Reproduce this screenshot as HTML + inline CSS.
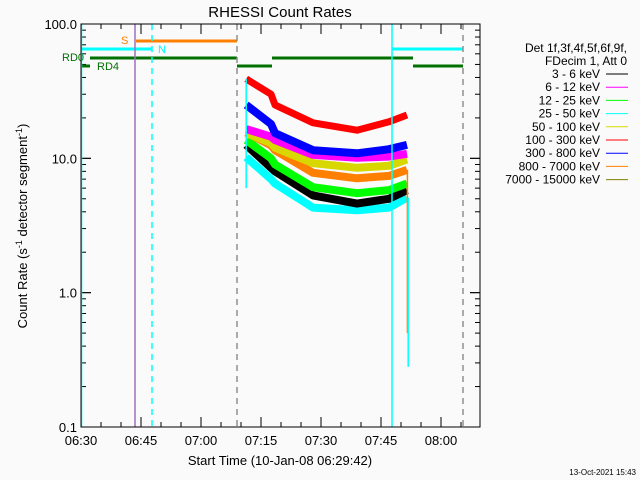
<!DOCTYPE html>
<html><head><meta charset="utf-8"><style>
body{margin:0;background:#fafafa;}
svg{display:block;font-family:"Liberation Sans",sans-serif;}
</style></head><body>
<svg id="chart" width="640" height="480" viewBox="0 0 640 480">
<rect width="640" height="480" fill="#fafafa"/>
<text x="280" y="17" font-size="15" text-anchor="middle">RHESSI Count Rates</text>
<g id="axes"></g>
<g id="flags"></g>
<g id="series"></g>
<g id="vlines"></g>
<rect x="81" y="24" width="399" height="403" fill="none" stroke="#000" stroke-width="1"/>
<text transform="translate(27,226) rotate(-90)" font-size="13" text-anchor="middle">Count Rate (s<tspan font-size="9" dy="-5">-1</tspan><tspan dy="5"> detector segment</tspan><tspan font-size="9" dy="-5">-1</tspan><tspan dy="5">)</tspan></text>
<text x="280" y="465" font-size="13" text-anchor="middle">Start Time (10-Jan-08 06:29:42)</text>
<text x="636" y="475" font-size="8" text-anchor="end">13-Oct-2021 15:43</text>
<g id="legend" font-size="12"></g>
</svg>
<script>
// time in minutes after 06:30
const times = [41.3, 47.5, 48.5, 58, 69, 77, 81.5];
const seriesNames = ["3 - 6 keV","6 - 12 keV","12 - 25 keV","25 - 50 keV","50 - 100 keV","100 - 300 keV","300 - 800 keV","800 - 7000 keV","7000 - 15000 keV"];
const seriesColors = ["#000000","#ff00ff","#00ff00","#00ffff","#d8d800","#ff0000","#0000ff","#ff8000","#808000"];
const black = [12.6, 8.5, 8, 5.3, 4.6, 5, 5.8];
const magenta = [16.5, 14.5, 13.7, 10.6, 10.1, 10.3, 10.8];
const green = [13.7, 10, 9, 6.1, 5.5, 5.8, 6.5];
const cyan = [10.2, 7, 6.5, 4.3, 4.1, 4.3, 5.1];
const yellow = [15.4, 13, 12, 9.2, 8.5, 8.8, 9.8];
const red = [39, 30, 25, 18.4, 16.2, 18.7, 21];
const blue = [25, 18, 15.4, 11.5, 10.9, 11.7, 12.6];
const orange = [15.6, 12.5, 11.5, 7.8, 7.1, 7.4, 8.2];
const xTickLabels = ["06:30","06:45","07:00","07:15","07:30","07:45","08:00"];
const yTickValues = [0.1, 1, 10, 100];
const yTickLabels = ["0.1","1.0","10.0","100.0"];

const X0=81,X1=480,Y0=24,Y1=427,TMAX=99.75;
function xs(t){return X0+(t/TMAX)*(X1-X0);}
function ys(v){return Y1-(Math.log10(v)-Math.log10(0.1))/3*(Y1-Y0);}
const NS="http://www.w3.org/2000/svg";
function mk(tag,attrs,parent){const e=document.createElementNS(NS,tag);for(const k in attrs)e.setAttribute(k,attrs[k]);parent.appendChild(e);return e;}

const axes=document.getElementById('axes');
// x ticks
for(let m=0;m<=TMAX;m+=5){
  const x=xs(m); const major=m%15===0; const L=major?10:5;
  const t1=mk('line',{x1:x,x2:x,y1:Y1,y2:Y1-L,stroke:'#000'},axes);
  
  
  const t2=mk('line',{x1:x,x2:x,y1:Y0,y2:Y0+L,stroke:'#000'},axes);
  
  
}
xTickLabels.forEach((lab,i)=>{
  const t=mk('text',{x:xs(i*15),y:445,'font-size':13,'text-anchor':'middle'},axes);
  t.textContent=lab;
  
  
});
// y ticks
for(let d=-1;d<2;d++){
  for(let k=1;k<=10;k++){
    const v=k*Math.pow(10,d); const y=ys(v); const major=(k===1||k===10); const L=major?10:5;
    const a=mk('line',{x1:X0,x2:X0+L,y1:y,y2:y,stroke:'#000'},axes);
    
    
    const b=mk('line',{x1:X1,x2:X1-L,y1:y,y2:y,stroke:'#000'},axes);
    
    
  }
}
yTickValues.forEach((v,i)=>{
  const t=mk('text',{x:77,y:ys(v)+5,'font-size':13,'text-anchor':'end'},axes);
  t.textContent=yTickLabels[i];
  
  
});

// flags
const flags=document.getElementById('flags');
function seg(x1,x2,y,c,w,name){const l=mk('line',{x1:x1,x2:x2,y1:y,y2:y,stroke:c,'stroke-width':w},flags);
  
  }
seg(136,237,41,'#ff8000',3,'saa-flag-bar');
seg(81,152,49,'#00ffff',3,'night-flag-bar');
seg(392,463,49,'#00ffff',3,'night-flag-bar-2');
seg(90,237,58,'#007000',3,'rd0-flag-bar');
seg(272,413,58,'#007000',3,'rd0-flag-bar-2');
seg(81,90,66,'#007000',3,'rd4-flag-bar');
seg(237,272,66,'#007000',3,'rd4-flag-bar-2');
seg(413,463,66,'#007000',3,'rd4-flag-bar-3');
function lab(x,y,txt,c,name){const t=mk('text',{x:x,y:y,'font-size':11,fill:c},flags);t.textContent=txt;
  
  }
lab(121,44,'S','#ff8000','saa-flag-label');
lab(158,53,'N','#00ffff','night-flag-label');
lab(62,61,'RD0','#007000','rd0-flag-label');
lab(97,70,'RD4','#007000','rd4-flag-label');

// series
const sg=document.getElementById('series');
const order=[[cyan,3],[black,0],[green,2],[orange,7],[yellow,4],[magenta,1],[blue,6],[red,5]];
order.forEach(([vals,ci])=>{
  const pts=times.map((t,i)=>xs(t).toFixed(1)+','+ys(vals[i]).toFixed(1)).join(' ');
  const p=mk('polyline',{points:pts,fill:'none',stroke:seriesColors[ci],'stroke-width':ci===5?7:8,'stroke-linejoin':'round'},sg);
  
  
});
// end drops
const d1=mk('line',{x1:xs(81.6),x2:xs(81.6),y1:ys(orange[6]),y2:ys(0.5),stroke:'#ff8000','stroke-width':1.5},sg);


const d2=mk('line',{x1:xs(81.8),x2:xs(81.8),y1:ys(cyan[6]),y2:ys(0.28),stroke:'#00ffff','stroke-width':1.5},sg);


const d3=mk('line',{x1:xs(41.3),x2:xs(41.3),y1:ys(red[0]),y2:ys(6),stroke:'#00ffff','stroke-width':1.5},sg);



// vertical lines
const vg=document.getElementById('vlines');
function vl(x,c,dash,name){const l=mk('line',{x1:x,x2:x,y1:Y0,y2:Y1,stroke:c,'stroke-width':1.5},vg);
  if(dash)l.setAttribute('stroke-dasharray','6,5');
  
  }
vl(81.5,'#00ffff',false,'night-start-line');
vl(135,'#a070c0',false,'saa-start-line');
vl(152,'#00ffff',true,'night-end-line');
vl(237,'#909090',true,'saa-end-line');
vl(392,'#00ffff',false,'night-start-line-2');
vl(463,'#909090',true,'night-end-line-2');

// legend
const lg=document.getElementById('legend');
function lt(x,y,txt,anchor,name){const t=mk('text',{x:x,y:y,'text-anchor':anchor},lg);t.textContent=txt;
  
  }
lt(627,52,'Det 1f,3f,4f,5f,6f,9f,','end','legend-header');
lt(627,65,'FDecim 1, Att 0','end','legend-subheader');
seriesNames.forEach((n,i)=>{
  const y=78+i*13.2;
  const t=mk('text',{x:600,y:y,'text-anchor':'end'},lg);t.textContent=n;
  
  
  const l=mk('line',{x1:606,x2:628,y1:y-4,y2:y-4,stroke:seriesColors[i],'stroke-width':1},lg);
  
  
});
</script>
</body></html>
